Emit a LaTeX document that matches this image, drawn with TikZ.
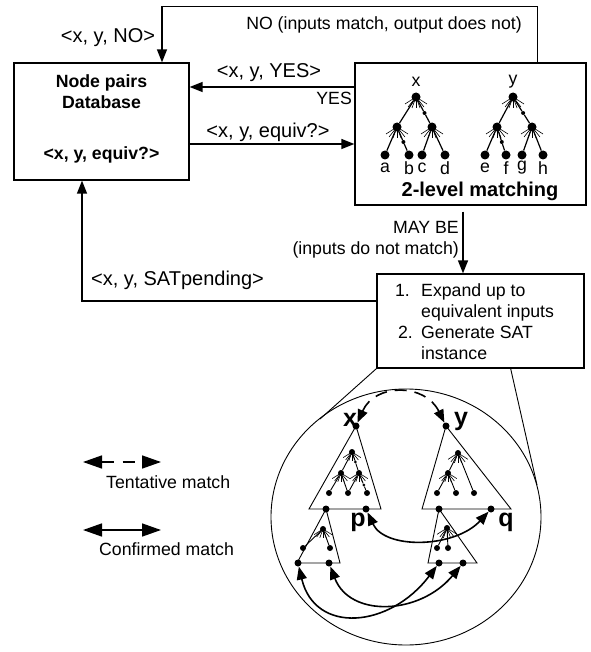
\documentclass[tikz,border=0pt]{standalone}
\usepackage{fontspec}
\setmainfont{Liberation Sans}
\usetikzlibrary{arrows.meta}
\newcommand\fanat[2]{\foreach \dx/\dy in {-11/7,-8/10,-4/11,0/11,4/11,8/10,11/7}{\draw[fanline] (#1.center) -- ++({\dx*#2},{\dy*#2});}}
\begin{document}
\begin{tikzpicture}[x=1pt,y=-1pt,>={Triangle[length=13pt,width=10pt]},
  lbl/.style={font=\fontsize{20}{24}\selectfont, inner sep=0pt},
  txt/.style={font=\fontsize{17.7}{21}\selectfont, inner sep=0pt},
  btxt/.style={font=\fontsize{17.7}{21}\selectfont\bfseries, inner sep=0pt},
  bigl/.style={font=\fontsize{25}{28}\selectfont\bfseries, inner sep=0pt},
  box/.style={draw, line width=1.3pt, inner sep=0pt},
  flow/.style={line width=1.5pt,->},
  dot/.style={circle, fill, inner sep=0pt, minimum size=9pt},
  cdot/.style={circle, fill, inner sep=0pt, minimum size=7pt},
  idot/.style={circle, fill, inner sep=0pt, minimum size=6pt},
  sdot/.style={circle, fill, inner sep=0pt, minimum size=4pt},
  treeedge/.style={line width=1.2pt},
  fanline/.style={line width=0.6pt},
  thinl/.style={line width=0.9pt},
  matcharr/.style={line width=1.6pt,<->},
  legarr/.style={line width=1.5pt,{Triangle[length=19pt,width=13pt]}-{Triangle[length=19pt,width=13pt]}},
]
\useasboundingbox (0,0) rectangle (590,652);

% ---------- boxes ----------
\node[box, minimum width=175pt, minimum height=117pt] (db) at (101.5,121.5) {};
\node[box, minimum width=231pt, minimum height=142pt] (mt) at (470.5,134) {};
\node[box, minimum width=207pt, minimum height=94pt] (sat) at (480.5,321) {};

\node[btxt, align=center] (dbtitle) at (101.5,92) {Node pairs\\Database};
\node[btxt] (dbkey) at (101.5,155) {<x, y, equiv?>};

% ---------- flow arrows ----------
\draw[flow] ([xshift=-49pt]mt.north east) -- ++(0,-56) -| ([xshift=60.5pt]db.north);
\draw[flow] (mt.west |- 0,87) -- (db.east |- 0,87);
\draw[flow] (db.east |- 0,144) -- (mt.west |- 0,144);
\path (mt.south -| 463,0) ++(0,6) coordinate (mb);
\draw[flow] (mb) -- (sat.north -| mb);
\draw[flow] (sat.west |- 0,301) -| (db.south -| 82,0);

% ---------- labels ----------
\node[txt] (nolbl) at (384,25) {NO (inputs match, output does not)};
\node[lbl] (nokey) at (108,38) {<x, y, NO>};
\node[lbl] (yeskey) at (269,73) {<x, y, YES>};
\node[txt, anchor=east] (yeslbl) at (352,98) {YES};
\node[lbl] (eqkey) at (268,132) {<x, y, equiv?>};
\node[txt, align=right, anchor=east] (maybe) at (459,239.5) {MAY BE\\(inputs do not match)};
\node[lbl, anchor=west] (satkey) at (91,280) {<x, y, SATpending>};

\node[txt, anchor=base east] (n1) at (410,296) {1.};
\node[txt, anchor=base west] (s1) at (421,296) {Expand up to};
\node[txt, anchor=base west] (s2) at (421,317) {equivalent inputs};
\node[txt, anchor=base east] (n2) at (413,338) {2.};
\node[txt, anchor=base west] (s3) at (421,338) {Generate SAT};
\node[txt, anchor=base west] (s4) at (421,359) {instance};

% ---------- 2-level matching trees ----------
\node[font=\fontsize{20}{24}\selectfont\bfseries, inner sep=0pt] (tl) at (480,191) {2-level matching};
\node[txt] (lx) at (416,82) {x};
\node[txt] (ly) at (513,82) {y};

\node[dot] (xa) at (416,97) {};
\node[dot] (xb) at (397,127) {};
\node[dot] (xc) at (432,127) {};
\node[sdot] (xs1) at (424.5,113) {};
\node[sdot] (xs2) at (403.4,142) {};
\node[dot] (la) at (385,155) {};
\node[dot] (lb) at (409,155) {};
\node[dot] (lc) at (422,155) {};
\node[dot] (ld) at (445,155) {};
\draw[treeedge] (xa) -- (xb);
\draw[treeedge] (xa) -- (xs1) -- (xc);
\draw[treeedge] (xb) -- (la);
\draw[treeedge] (xb) -- (xs2) -- (lb);
\draw[treeedge] (xc) -- (lc);
\draw[treeedge] (xc) -- (ld);
\fanat{xa}{1}\fanat{xb}{1}\fanat{xc}{1}

\node[dot] (ya) at (513,97) {};
\node[dot] (yb) at (497,127) {};
\node[dot] (yc) at (532,127) {};
\node[sdot] (ys1) at (523.1,113) {};
\node[sdot] (ys2) at (501.8,142) {};
\node[dot] (le) at (485,155) {};
\node[dot] (lf) at (506,155) {};
\node[dot] (lg) at (522,155) {};
\node[dot] (lh) at (543,155) {};
\draw[treeedge] (ya) -- (yb);
\draw[treeedge] (ya) -- (ys1) -- (yc);
\draw[treeedge] (yb) -- (le);
\draw[treeedge] (yb) -- (ys2) -- (lf);
\draw[treeedge] (yc) -- (lg);
\draw[treeedge] (yc) -- (lh);
\fanat{ya}{1}\fanat{yb}{1}\fanat{yc}{1}

\node[txt] (ta) at (385,168) {a};
\node[txt] (tb) at (409,168) {b};
\node[txt] (tc) at (422,168) {c};
\node[txt] (td) at (445,168) {d};
\node[txt] (te) at (485,168) {e};
\node[txt] (tf) at (506,168) {f};
\node[txt] (tg) at (522,168) {g};
\node[txt] (th) at (543,168) {h};

% ---------- zoom circle ----------
\draw[thinl] (406,517) ellipse [x radius=135, y radius=128];
\draw[thinl] (sat.south west) -- (320,419);
\draw[thinl] ([xshift=-74pt]sat.south east) -- (537,485);

\draw[thinl] (356,426) -- (309,509) -- (381,509) -- cycle;
\draw[thinl] (446,426) -- (422,509) -- (511,509) -- cycle;
\draw[thinl] (326,509) -- (297,563) -- (340,563) -- cycle;
\draw[thinl] (439,509) -- (428,563) -- (477,563) -- cycle;

\node[bigl] (bx) at (350,420) {x};
\node[bigl] (by) at (461,421) {y};
\node[bigl] (bp) at (358,522) {p};
\node[bigl] (bq) at (506,522) {q};

\node[cdot] (cx) at (356,426) {};
\node[cdot] (cy) at (446,426) {};
\node[cdot] (lb1) at (326,509) {};
\node[cdot] (cp) at (366,509) {};
\node[cdot] (rb1) at (439,509) {};
\node[cdot] (cq) at (491,509) {};
\node[cdot] (sl1) at (298,563) {};
\node[cdot] (sl2) at (329,563) {};
\node[cdot] (sr1) at (439,563) {};
\node[cdot] (sr2) at (463,563) {};

% inside left big triangle
\node[idot] (i1) at (352,452) {};
\node[idot] (i2) at (341,473) {};
\node[idot] (i3) at (359,473) {};
\node[idot] (j1) at (329,493) {};
\node[idot] (j2) at (348,493) {};
\node[idot] (j3) at (367,493) {};
\node[sdot, minimum size=3pt] (k1) at (355.3,462) {};
\node[sdot, minimum size=3pt] (k2) at (363.8,485) {};
\draw[thinl] (i1) -- (i2);
\draw[thinl] (i1) -- (k1) -- (i3);
\draw[thinl] (i2) -- (j1);
\draw[thinl] (i2) -- (j2);
\draw[thinl] (i3) -- (j2);
\draw[thinl] (i3) -- (k2) -- (j3);
\fanat{i1}{0.8}\fanat{i2}{0.8}\fanat{i3}{0.8}

% inside right big triangle
\node[idot] (r1) at (458,453) {};
\node[idot] (r2) at (448,473) {};
\node[idot] (m1) at (437,493) {};
\node[idot] (m2) at (456,493) {};
\node[idot] (m3) at (474,493) {};
\draw[thinl] (r1) -- (r2);
\draw[thinl] (r1) -- (m3);
\draw[thinl] (r2) -- (m1);
\draw[thinl] (r2) -- (m2);
\fanat{r1}{0.9}\fanat{r2}{0.8}

% small triangles
\node[idot] (u1) at (323,529) {};
\node[idot] (u2) at (303,548) {};
\node[idot] (u3) at (330,548) {};
\draw[thinl] (u1) -- (u2);
\draw[thinl] (u1) -- (u3);
\fanat{u1}{0.8}
\node[idot] (v1) at (447,528) {};
\node[idot] (v2) at (437,548) {};
\node[idot] (v3) at (448,548) {};
\draw[thinl] (v1) -- (v2);
\draw[thinl] (v1) -- (v3);
\fanat{v1}{0.9}

% match arrows
\draw[matcharr, dash pattern=on 12pt off 8pt] (cx) .. controls (375,383) and (425,383) .. (cy);
\draw[matcharr] (cp) .. controls (385,550) and (455,548) .. (cq);
\draw[matcharr] (sl1) .. controls (315,635) and (390,628) .. (sr1);
\draw[matcharr] (sl2) .. controls (350,618) and (420,615) .. (sr2);

% ---------- legend ----------
\coordinate (ta1) at (83,462);
\coordinate (ta2) at (161,462);
\draw[legarr, dash pattern=on 12pt off 9pt] (ta1) -- (ta2);
\node[txt, anchor=west] (tent) at (106,482) {Tentative match};
\coordinate (ca1) at (83,530);
\coordinate (ca2) at (161,530);
\draw[legarr] (ca1) -- (ca2);
\node[txt, anchor=west] (conf) at (99,549) {Confirmed match};
\end{tikzpicture}
\end{document}
